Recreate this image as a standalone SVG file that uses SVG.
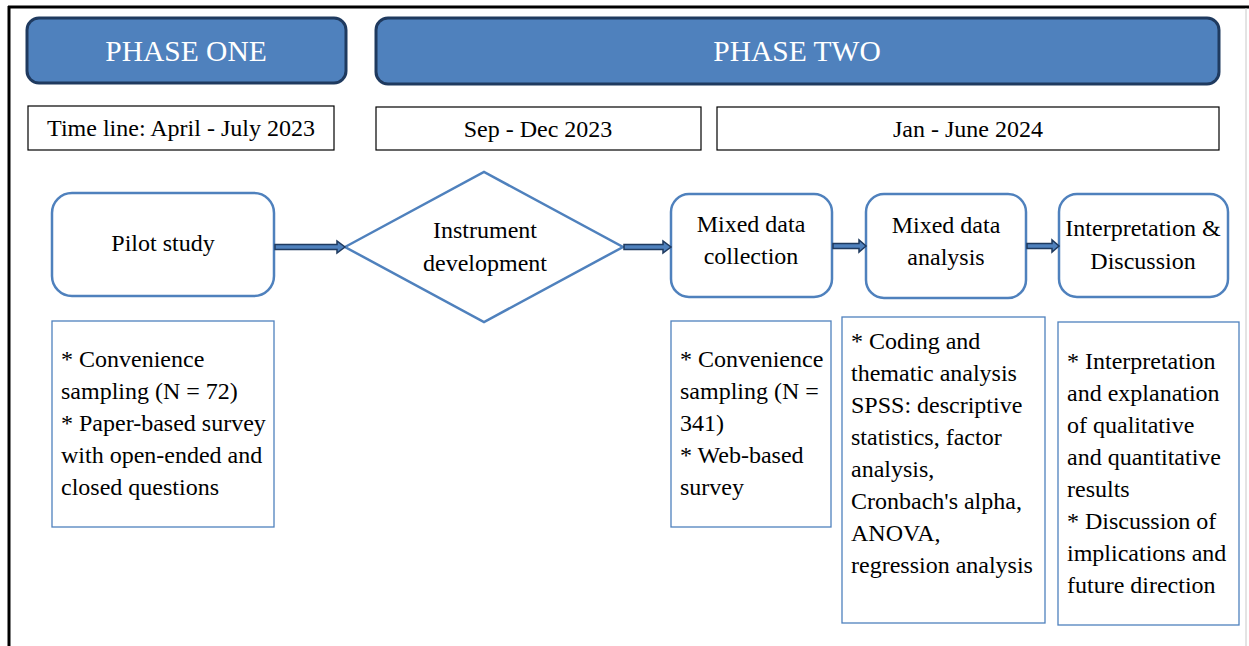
<svg xmlns="http://www.w3.org/2000/svg" width="1249" height="646" viewBox="0 0 1249 646" font-family="Liberation Serif, Times New Roman, serif">
<style>
text{font-family:"Liberation Serif","Times New Roman",serif}
.phase{fill:#4F81BD;stroke:#1F3A5F;stroke-width:3}
.ptxt{font-size:29.5px;fill:#fff;text-anchor:middle}
.tl{fill:#fff;stroke:#000;stroke-width:1.2}
.tltxt{font-size:24px;fill:#000;text-anchor:middle}
.step{fill:#fff;stroke:#4F81BD;stroke-width:2.5}
.stxt{font-size:24px;fill:#000;text-anchor:middle}
.note{fill:#fff;stroke:#4F81BD;stroke-width:1.3}
.ntxt{font-size:24px;fill:#000}
.arr{fill:#4F81BD;stroke:#1F3A5F;stroke-width:1.5}
</style>
<rect x="0" y="0" width="1249" height="646" fill="#fff"/>
<g id="frame">
<line x1="8" y1="7" x2="1249" y2="7" stroke="#000" stroke-width="3"/>
<line x1="9" y1="6" x2="9" y2="646" stroke="#000" stroke-width="3"/>
<line x1="1246" y1="8" x2="1246" y2="646" stroke="#c8c8c8" stroke-width="1"/>
</g>
<g id="phase-one"><rect class="phase" x="27" y="18" width="319" height="65" rx="12"/><text class="ptxt" x="186" y="61">PHASE ONE</text></g>
<g id="phase-two"><rect class="phase" x="376" y="18" width="843" height="66" rx="12"/><text class="ptxt" x="797" y="61">PHASE TWO</text></g>
<g id="timeline-1"><rect class="tl" x="28" y="106" width="306" height="44"/><text class="tltxt" x="181" y="136">Time line: April - July 2023</text></g>
<g id="timeline-2"><rect class="tl" x="376" y="107" width="325" height="43"/><text class="tltxt" x="538" y="137">Sep - Dec 2023</text></g>
<g id="timeline-3"><rect class="tl" x="717" y="107" width="502" height="43"/><text class="tltxt" x="968" y="137">Jan - June 2024</text></g>
<g id="pilot"><rect class="step" x="52" y="193" width="222" height="103" rx="20"/><text class="stxt" x="163" y="251">Pilot study</text></g>
<g id="instrument"><polygon class="step" points="345,247 484,172 623,247 484,322"/><text class="stxt" x="485" y="238">Instrument</text><text class="stxt" x="485" y="271">development</text></g>
<g id="collection"><rect class="step" x="671" y="194" width="161" height="103" rx="18"/><text class="stxt" x="751" y="232">Mixed data</text><text class="stxt" x="751" y="264">collection</text></g>
<g id="analysis"><rect class="step" x="866" y="194" width="160" height="104" rx="18"/><text class="stxt" x="946" y="233">Mixed data</text><text class="stxt" x="946" y="265">analysis</text></g>
<g id="interpretation"><rect class="step" x="1059" y="194" width="169" height="103" rx="18"/><text class="stxt" x="1143" y="236">Interpretation &amp;</text><text class="stxt" x="1143" y="269">Discussion</text></g>
<g id="connectors">
<polygon class="arr" points="275,244.5 337,244.5 337,241 345,247 337,253 337,249.5 275,249.5"/>
<polygon class="arr" points="624,244.5 663,244.5 663,241 671,247 663,253 663,249.5 624,249.5"/>
<polygon class="arr" points="833,243.5 859,243.5 859,240 866,246 859,252 859,248.5 833,248.5"/>
<polygon class="arr" points="1027,243.5 1052,243.5 1052,240 1059,246 1052,252 1052,248.5 1027,248.5"/>
</g>
<g id="note-pilot"><rect class="note" x="52" y="321" width="222" height="206"/>
<text class="ntxt" x="61" y="367">* Convenience</text>
<text class="ntxt" x="61" y="399">sampling (N = 72)</text>
<text class="ntxt" x="61" y="431">* Paper-based survey</text>
<text class="ntxt" x="61" y="463">with open-ended and</text>
<text class="ntxt" x="61" y="495">closed questions</text></g>
<g id="note-collection"><rect class="note" x="671" y="321" width="160" height="206"/>
<text class="ntxt" x="680" y="367">* Convenience</text>
<text class="ntxt" x="680" y="399">sampling (N =</text>
<text class="ntxt" x="680" y="431">341)</text>
<text class="ntxt" x="680" y="463">* Web-based</text>
<text class="ntxt" x="680" y="495">survey</text></g>
<g id="note-analysis"><rect class="note" x="842" y="317" width="203" height="306"/>
<text class="ntxt" x="851" y="349">* Coding and</text>
<text class="ntxt" x="851" y="381">thematic analysis</text>
<text class="ntxt" x="851" y="413">SPSS: descriptive</text>
<text class="ntxt" x="851" y="445">statistics, factor</text>
<text class="ntxt" x="851" y="477">analysis,</text>
<text class="ntxt" x="851" y="509">Cronbach's alpha,</text>
<text class="ntxt" x="851" y="541">ANOVA,</text>
<text class="ntxt" x="851" y="573">regression analysis</text></g>
<g id="note-interpretation"><rect class="note" x="1058" y="322" width="181" height="303"/>
<text class="ntxt" x="1067" y="369">* Interpretation</text>
<text class="ntxt" x="1067" y="401">and explanation</text>
<text class="ntxt" x="1067" y="433">of qualitative</text>
<text class="ntxt" x="1067" y="465">and quantitative</text>
<text class="ntxt" x="1067" y="497">results</text>
<text class="ntxt" x="1067" y="529">* Discussion of</text>
<text class="ntxt" x="1067" y="561">implications and</text>
<text class="ntxt" x="1067" y="593">future direction</text></g>
</svg>
